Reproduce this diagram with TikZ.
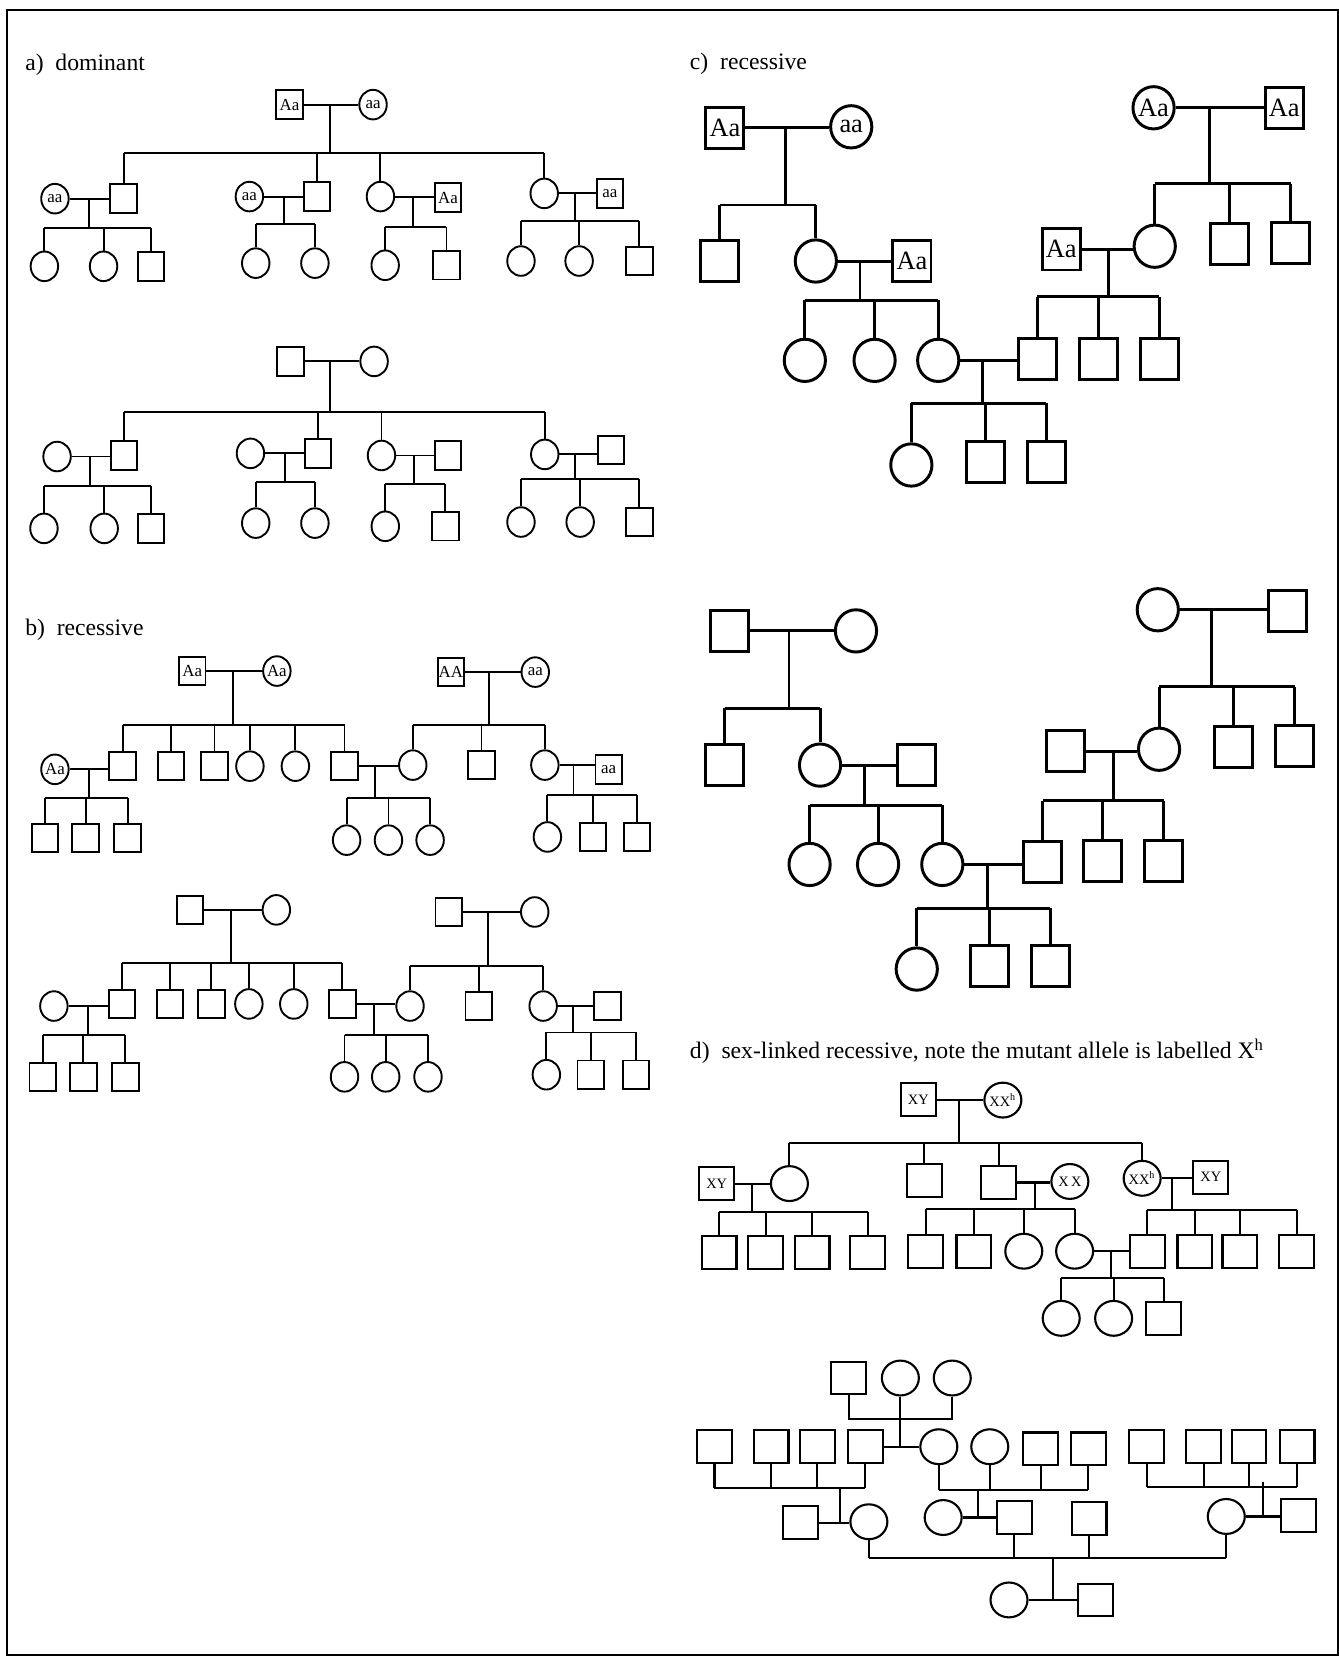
\documentclass[tikz,border=0pt]{standalone}
\usepackage{fontspec}
\setmainfont{Liberation Serif}
\usetikzlibrary{shapes.geometric}
\newcommand\pedfam[6]{%
  \draw (#1.east) -- (#1.east -| #2.west);
  \draw (#1.east -| #3) -- (#3);
  \draw (#4 |- #3) -- (#5 |- #3);
  \foreach \kid in {#6} {\draw (\kid |- #3) -- (\kid.north);}
}
\begin{document}
\begin{tikzpicture}[x=0.5pt,y=-0.5pt,line width=0.9pt,
  asq/.style={draw,rectangle,inner sep=0pt,minimum width=12.5pt,minimum height=13.5pt},
  aci/.style={draw,ellipse,inner sep=0pt,minimum width=13pt,minimum height=14pt},
  alab/.style={inner sep=0pt,font=\fontsize{8}{9}\selectfont},
  csq/.style={draw,rectangle,inner sep=0pt,minimum width=18pt,minimum height=19.5pt},
  cci/.style={draw,ellipse,inner sep=0pt,minimum width=19.5pt,minimum height=20pt},
  clab/.style={inner sep=0pt,font=\fontsize{12.5}{13}\selectfont},
  dsq/.style={draw,rectangle,inner sep=0pt,minimum width=16.5pt,minimum height=15.5pt},
  dci/.style={draw,ellipse,inner sep=0pt,minimum width=17.5pt,minimum height=16.5pt},
  dlab/.style={inner sep=0pt,font=\fontsize{6.8}{7}\selectfont},
  ttl/.style={anchor=base west,inner sep=0pt,font=\fontsize{11.2}{13}\selectfont},
]
\useasboundingbox (0,0) rectangle (1267,1568);
\draw[line width=1pt] (6.6,9.5) rectangle (1266,1566.5);

% ---------------- a) top
\node[ttl] (ta) at (23,67) {a)\hspace{0.5em}dominant};
\node[asq] (aP1) at (274,99) {}; \node[alab] (aP1t) at (aP1) {Aa};
\node[aci] (aP2) at (353,99) {}; \node[alab] (aP2t) at (aP2) {aa};
\coordinate (aS0) at (312,145);
\node[aci] (a11) at (52,188) {}; \node[alab] (a11t) at (a11) {aa};
\node[asq] (a12) at (117,188) {};
\node[aci] (a21) at (236,186) {}; \node[alab] (a21t) at (a21) {aa};
\node[asq] (a22) at (300,186) {};
\node[aci] (a31) at (360,186) {};
\node[asq] (a32) at (424,187) {}; \node[alab] (a32t) at (a32) {Aa};
\node[aci] (a41) at (515,183) {};
\node[asq] (a42) at (577,183) {}; \node[alab] (a42t) at (a42) {aa};
\pedfam{aP1}{aP2}{aS0}{a12}{a41}{a12,a22,a31,a41}
\coordinate (aS1) at (84,216);
\node[aci] (a1k1) at (42,252) {}; \node[aci] (a1k2) at (98,252) {}; \node[asq] (a1k3) at (143,252) {};
\pedfam{a11}{a12}{aS1}{a1k1}{a1k3}{a1k1,a1k2,a1k3}
\coordinate (aS2) at (269,212);
\node[aci] (a2k1) at (242,249) {}; \node[aci] (a2k2) at (298,249) {};
\pedfam{a21}{a22}{aS2}{a2k1}{a2k2}{a2k1,a2k2}
\coordinate (aS3) at (391,215);
\node[aci] (a3k1) at (364.5,251) {}; \node[asq] (a3k2) at (422.5,251) {};
\pedfam{a31}{a32}{aS3}{a3k1}{a3k2}{a3k1,a3k2}
\coordinate (aS4) at (544,209);
\node[aci] (a4k1) at (493,247) {}; \node[aci] (a4k2) at (548,247) {}; \node[asq] (a4k3) at (605,247) {};
\pedfam{a41}{a42}{aS4}{a4k1}{a4k3}{a4k1,a4k2,a4k3}

% ---------------- a) bottom
\node[asq] (eP1) at (275,342) {}; \node[aci] (eP2) at (354,342) {};
\coordinate (eS0) at (312,390);
\node[aci] (e11) at (54,432) {}; \node[asq] (e12) at (117.5,431) {};
\node[aci] (e21) at (237,429) {}; \node[asq] (e22) at (301,429) {};
\node[aci] (e31) at (361,431) {}; \node[asq] (e32) at (424,431) {};
\node[aci] (e41) at (515.5,430) {}; \node[asq] (e42) at (578,426) {};
\pedfam{eP1}{eP2}{eS0}{e12}{e41}{e12,e22,e31,e41}
\coordinate (eS1) at (85,460);
\node[aci] (e1k1) at (41.6,500) {}; \node[aci] (e1k2) at (98.6,500) {}; \node[asq] (e1k3) at (143,500) {};
\pedfam{e11}{e12}{eS1}{e1k1}{e1k3}{e1k1,e1k2,e1k3}
\coordinate (eS2) at (270,456);
\node[aci] (e2k1) at (242,495) {}; \node[aci] (e2k2) at (298,495) {};
\pedfam{e21}{e22}{eS2}{e2k1}{e2k2}{e2k1,e2k2}
\coordinate (eS3) at (392,458);
\node[aci] (e3k1) at (364.6,498) {}; \node[asq] (e3k2) at (421.5,498) {};
\pedfam{e31}{e32}{eS3}{e3k1}{e3k2}{e3k1,e3k2}
\coordinate (eS4) at (544,453);
\node[aci] (e4k1) at (493,494) {}; \node[aci] (e4k2) at (549,494) {}; \node[asq] (e4k3) at (605,494) {};
\pedfam{e41}{e42}{eS4}{e4k1}{e4k3}{e4k1,e4k2,e4k3}

% ---------------- b) top
\node[ttl] (tb) at (23,601) {b)\hspace{0.5em}recessive};
\node[asq] (bL1) at (182,635) {}; \node[alab] (bL1t) at (bL1) {Aa};
\node[aci] (bL2) at (262,635) {}; \node[alab] (bL2t) at (bL2) {Aa};
\coordinate (bSL) at (220.4,686);
\node[asq] (bc1) at (116,725) {}; \node[asq] (bc2) at (162,725) {}; \node[asq] (bc3) at (203,725) {};
\node[aci] (bc4) at (236.5,725) {}; \node[aci] (bc5) at (279.5,725) {}; \node[asq] (bc6) at (326,725) {};
\pedfam{bL1}{bL2}{bSL}{bc1}{bc6}{bc1,bc2,bc3,bc4,bc5,bc6}
\node[asq] (bR1) at (426.6,636) {}; \node[alab] (bR1t) at (bR1) {AA};
\node[aci] (bR2) at (506.5,636) {}; \node[alab] (bR2t) at (bR2) {aa};
\coordinate (bSR) at (463,686);
\node[aci] (bd1) at (390.6,724) {}; \node[asq] (bd2) at (455.6,724) {}; \node[aci] (bd3) at (515.6,724) {};
\pedfam{bR1}{bR2}{bSR}{bd1}{bd3}{bd1,bd2,bd3}
\coordinate (bSC) at (355,755);
\node[aci] (bk1) at (328,795) {}; \node[aci] (bk2) at (367.6,795) {}; \node[aci] (bk3) at (407,795) {};
\pedfam{bc6}{bd1}{bSC}{bk1}{bk3}{bk1,bk2,bk3}
\node[aci] (bf1) at (52,728) {}; \node[alab] (bf1t) at (bf1) {Aa};
\coordinate (bS1) at (84,755);
\node[asq] (bm1) at (42.5,793) {}; \node[asq] (bm2) at (81,793) {}; \node[asq] (bm3) at (120.8,793) {};
\pedfam{bf1}{bc1}{bS1}{bm1}{bm3}{bm1,bm2,bm3}
\node[asq] (bg2) at (576,728) {}; \node[alab] (bg2t) at (bg2) {aa};
\coordinate (bS2) at (542.7,752);
\node[aci] (bn1) at (518,792) {}; \node[asq] (bn2) at (561,792) {}; \node[asq] (bn3) at (603,792) {};
\pedfam{bd3}{bg2}{bS2}{bn1}{bn3}{bn1,bn2,bn3}

% ---------------- b) bottom
\node[asq] (kL1) at (180,861) {}; \node[aci] (kL2) at (261.5,861) {};
\coordinate (kSL) at (218.4,911.5);
\node[asq] (kc1) at (115.3,950) {}; \node[asq] (kc2) at (161,950) {}; \node[asq] (kc3) at (200,950) {};
\node[aci] (kc4) at (235.5,950) {}; \node[aci] (kc5) at (278,950) {}; \node[asq] (kc6) at (324,950) {};
\pedfam{kL1}{kL2}{kSL}{kc1}{kc6}{kc1,kc2,kc3,kc4,kc5,kc6}
\node[asq] (kR1) at (424.6,863) {}; \node[aci] (kR2) at (506,863) {};
\coordinate (kSR) at (461.8,914);
\node[aci] (kd1) at (388,952) {}; \node[asq] (kd2) at (453,952) {}; \node[aci] (kd3) at (514,952) {};
\pedfam{kR1}{kR2}{kSR}{kd1}{kd3}{kd1,kd2,kd3}
\coordinate (kSC) at (353.8,979.4);
\node[aci] (kk1) at (326,1019) {}; \node[aci] (kk2) at (365,1019) {}; \node[aci] (kk3) at (405,1019) {};
\pedfam{kc6}{kd1}{kSC}{kk1}{kk3}{kk1,kk2,kk3}
\node[aci] (kf1) at (51,952) {};
\coordinate (kS1) at (83,979);
\node[asq] (km1) at (40.4,1019) {}; \node[asq] (km2) at (78.9,1019) {}; \node[asq] (km3) at (118.7,1019) {};
\pedfam{kf1}{kc1}{kS1}{km1}{km3}{km1,km2,km3}
\node[asq] (kg2) at (575,952) {};
\coordinate (kS2) at (541.8,977);
\node[aci] (kn1) at (517,1017) {}; \node[asq] (kn2) at (559,1017) {}; \node[asq] (kn3) at (602,1017) {};
\pedfam{kd3}{kg2}{kS2}{kn1}{kn3}{kn1,kn2,kn3}

% ---------------- c) top
\node[ttl] (tc) at (652,66) {c)\hspace{0.5em}recessive};
\begin{scope}[line width=1.4pt]
\node[csq] (cA1) at (686,121) {}; \node[clab] (cA1t) at (cA1) {Aa};
\node[cci] (cA2) at (805.5,120) {}; \node[clab] (cA2t) at (cA2) {aa};
\coordinate (cS1) at (743.4,194);
\node[csq] (cB1) at (681,247) {}; \node[cci] (cB2) at (772,247) {};
\pedfam{cA1}{cA2}{cS1}{cB1}{cB2}{cB1,cB2}
\node[csq] (cB3) at (863,247) {}; \node[clab] (cB3t) at (cB3) {Aa};
\coordinate (cS2) at (813.8,284);
\node[cci] (cC1) at (761.6,341) {}; \node[cci] (cC2) at (827.6,341) {}; \node[cci] (cC3) at (887.8,341) {};
\pedfam{cB2}{cB3}{cS2}{cC1}{cC3}{cC1,cC2,cC3}
\node[cci] (cR1) at (1091.6,102) {}; \node[clab] (cR1t) at (cR1) {Aa};
\node[csq] (cR2) at (1215.3,102) {}; \node[clab] (cR2t) at (cR2) {Aa};
\coordinate (cS3) at (1144.2,174);
\node[cci] (cQ1) at (1092.7,233) {}; \node[csq] (cQ2) at (1163.4,231) {}; \node[csq] (cQ3) at (1221.4,230) {};
\pedfam{cR1}{cR2}{cS3}{cQ1}{cQ3}{cQ1,cQ2,cQ3}
\node[csq] (cQ0) at (1004.3,236) {}; \node[clab] (cQ0t) at (cQ0) {Aa};
\coordinate (cS4) at (1048.7,281);
\node[csq] (cD1) at (981.7,340) {}; \node[csq] (cD2) at (1039.5,340) {}; \node[csq] (cD3) at (1097.2,340) {};
\pedfam{cQ0}{cQ1}{cS4}{cD1}{cD3}{cD1,cD2,cD3}
\coordinate (cS5) at (929.8,381.7);
\node[cci] (cE1) at (862.4,440) {}; \node[csq] (cE2) at (932.5,437) {}; \node[csq] (cE3) at (990,437) {};
\pedfam{cC3}{cD1}{cS5}{cE1}{cE3}{cE1,cE2,cE3}

% ---------------- c) bottom
\node[csq] (mA1) at (690,597) {}; \node[cci] (mA2) at (810,597) {};
\coordinate (mS1) at (746.6,670);
\node[csq] (mB1) at (685.6,724) {}; \node[cci] (mB2) at (776,724) {};
\pedfam{mA1}{mA2}{mS1}{mB1}{mB2}{mB1,mB2}
\node[csq] (mB3) at (866.9,724) {};
\coordinate (mS2) at (818,762);
\node[cci] (mC1) at (766.1,818) {}; \node[cci] (mC2) at (830.9,818) {}; \node[cci] (mC3) at (891.7,818) {};
\pedfam{mB2}{mB3}{mS2}{mC1}{mC3}{mC1,mC2,mC3}
\node[cci] (mR1) at (1095.6,577) {}; \node[csq] (mR2) at (1218.3,578) {};
\coordinate (mS3) at (1146.2,650);
\node[cci] (mQ1) at (1096.8,709) {}; \node[csq] (mQ2) at (1167,707) {}; \node[csq] (mQ3) at (1225,706) {};
\pedfam{mR1}{mR2}{mS3}{mQ1}{mQ3}{mQ1,mQ2,mQ3}
\node[csq] (mQ0) at (1007.9,711) {};
\coordinate (mS4) at (1053.6,757.7);
\node[csq] (mD1) at (986.6,816) {}; \node[csq] (mD2) at (1043.6,815) {}; \node[csq] (mD3) at (1101.3,815) {};
\pedfam{mQ0}{mQ1}{mS4}{mD1}{mD3}{mD1,mD2,mD3}
\coordinate (mS5) at (934.7,859.6);
\node[cci] (mE1) at (867.5,917) {}; \node[csq] (mE2) at (936.6,914) {}; \node[csq] (mE3) at (994,914) {};
\pedfam{mC3}{mD1}{mS5}{mE1}{mE3}{mE1,mE2,mE3}
\end{scope}

% ---------------- d) top
\node[ttl] (td) at (652,1002) {d)\hspace{0.5em}sex-linked recessive, note the mutant allele is labelled X\textsuperscript{h}};
\begin{scope}[line width=1pt]
\node[dsq] (dA1) at (869,1040.5) {}; \node[dlab] (dA1t) at (dA1) {XY};
\node[dci] (dA2) at (949,1041) {}; \node[dlab] (dA2t) at (dA2) {XX\textsuperscript{h}};
\coordinate (dS0) at (907.3,1082);
\node[dsq] (dB0) at (678.2,1120) {}; \node[dlab] (dB0t) at (dB0) {XY};
\node[dci] (dB1) at (747,1120) {};
\node[dsq] (dB2) at (874.5,1117) {};
\node[dsq] (dB3) at (945,1119) {};
\node[dci] (dB4) at (1012.4,1118) {}; \node[dlab] (dB4t) at (dB4) {X\,X};
\node[dci] (dB5) at (1080.8,1115) {}; \node[dlab] (dB5t) at (dB5) {XX\textsuperscript{h}};
\node[dsq] (dB6) at (1145.8,1114) {}; \node[dlab] (dB6t) at (dB6) {XY};
\pedfam{dA1}{dA2}{dS0}{dB1}{dB5}{dB1,dB2,dB3,dB5}
\coordinate (dS1) at (711.8,1146.6);
\node[dsq] (dC1) at (680.4,1185) {}; \node[dsq] (dC2) at (724.5,1185) {};
\node[dsq] (dC3) at (768.4,1185) {}; \node[dsq] (dC4) at (821.2,1185) {};
\pedfam{dB0}{dB1}{dS1}{dC1}{dC4}{dC1,dC2,dC3,dC4}
\coordinate (dS2) at (979,1144.4);
\node[dsq] (dD1) at (875.9,1184) {}; \node[dsq] (dD2) at (921.6,1184) {};
\node[dci] (dD3) at (968.8,1184) {}; \node[dci] (dD4) at (1016.9,1184) {};
\pedfam{dB3}{dB4}{dS2}{dD1}{dD4}{dD1,dD2,dD3,dD4}
\coordinate (dS3) at (1108.9,1145);
\node[dsq] (dE1) at (1085.6,1184) {}; \node[dsq] (dE2) at (1130.7,1184) {};
\node[dsq] (dE3) at (1173.3,1184) {}; \node[dsq] (dE4) at (1227,1184) {};
\pedfam{dB5}{dB6}{dS3}{dE1}{dE4}{dE1,dE2,dE3,dE4}
\coordinate (dS4) at (1051.5,1209.7);
\node[dci] (dF1) at (1004.2,1247.5) {}; \node[dci] (dF2) at (1053.8,1247.5) {}; \node[dsq] (dF3) at (1101.3,1247.5) {};
\pedfam{dD4}{dE1}{dS4}{dF1}{dF3}{dF1,dF2,dF3}

% ---------------- d) bottom
\node[dsq] (nT1) at (803.2,1304) {}; \node[dci] (nT2) at (852,1304) {}; \node[dci] (nT3) at (901.1,1304) {};
\coordinate (nH) at (852,1343);
\node[dsq] (nR1) at (676.1,1369) {}; \node[dsq] (nR2) at (729.6,1369) {};
\node[dsq] (nR3) at (773.5,1369) {}; \node[dsq] (nR4) at (818.8,1369) {};
\node[dci] (nR5) at (888.4,1369) {}; \node[dci] (nR6) at (936.6,1369) {};
\node[dsq] (nR7) at (984.8,1371) {}; \node[dsq] (nR8) at (1029.8,1371) {};
\node[dsq] (nR9) at (1085,1369) {}; \node[dsq] (nR10) at (1138.9,1369) {};
\node[dsq] (nR11) at (1181.9,1369) {}; \node[dsq] (nR12) at (1227.4,1369) {};
\node[dsq] (nL1) at (757.7,1441) {}; \node[dci] (nL2) at (822.2,1440) {};
\node[dci] (nM1) at (892.5,1436) {}; \node[dsq] (nM2) at (959.7,1436) {};
\node[dsq] (nM3) at (1030.6,1437) {};
\node[dci] (nN1) at (1160.4,1435) {}; \node[dsq] (nN2) at (1228.6,1434) {};
\node[dci] (nB1) at (954.8,1514) {}; \node[dsq] (nB2) at (1036.4,1514) {};

\draw (nT1.south) -- (nT1.south |- nH) -- (nT3.south |- nH) -- (nT3.south);
\draw (nT2.south) -- (nH) -- (nH |- nR4.east);
\draw (nR4.east) -- (nR4.east -| nR5.west);

\coordinate (nG1) at (794.6,1408.3);
\draw (nR1 |- nG1) -- (nR4 |- nG1);
\foreach \s in {nR1,nR2,nR3,nR4} {\draw (\s.south) -- (\s |- nG1);}
\draw (nG1) -- (nG1 |- nL1.east);
\draw (nL1.east) -- (nL1.east -| nL2.west);

\coordinate (nG2) at (925.7,1410);
\draw (nR5 |- nG2) -- (nR8 |- nG2);
\foreach \s in {nR5,nR6,nR7,nR8} {\draw (\s.south) -- (\s |- nG2);}
\draw (nG2) -- (nG2 |- nM1.east);
\draw (nM1.east) -- (nM1.east -| nM2.west);

\coordinate (nG3) at (1195,1407);
\coordinate (nG3t) at (1195,1402);
\draw (nR9 |- nG3) -- (nR12 |- nG3);
\foreach \s in {nR9,nR10,nR11,nR12} {\draw (\s.south) -- (\s |- nG3);}
\draw (nG3t) -- (nG3t |- nN1.east);
\draw (nN1.east) -- (nN1.east -| nN2.west);

\coordinate (nG4) at (996.6,1474);
\draw (nL2 |- nG4) -- (nN1 |- nG4);
\foreach \s in {nL2,nM2,nM3,nN1} {\draw (\s.south) -- (\s |- nG4);}
\draw (nG4) -- (nG4 |- nB1.east);
\draw (nB1.east) -- (nB1.east -| nB2.west);
\end{scope}
\end{tikzpicture}
\end{document}
